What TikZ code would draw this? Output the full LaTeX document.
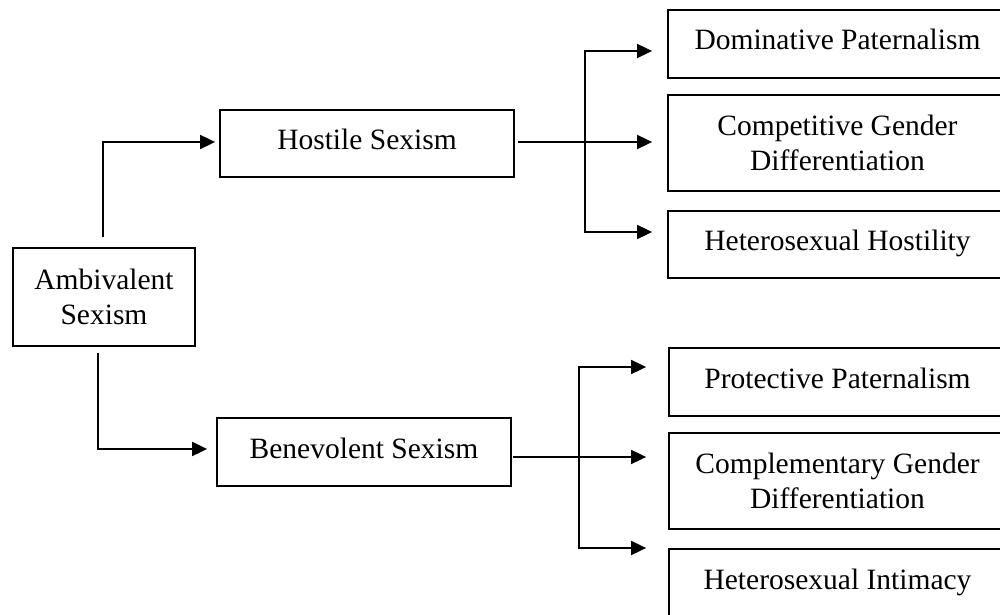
\documentclass[tikz,border=0pt]{standalone}
\usepackage{fontspec}
\setmainfont{Liberation Serif}
\usetikzlibrary{arrows.meta}
\begin{document}
\begin{tikzpicture}[x=1pt,y=1pt,
  box/.style={draw,line width=1.8pt,inner sep=0pt,align=center,
    font=\fontsize{29.5}{35}\selectfont},
  one/.style={text height=21pt,text depth=9pt},
  conn/.style={line width=1.8pt},
  arr/.style={line width=1.8pt,-{Triangle[length=15pt,width=14pt]}}]
\useasboundingbox (0,0) rectangle (1000,614);
\clip (0,0) rectangle (1000,614);
% left
\node[box,minimum width=182pt,minimum height=98pt] (amb) at (104,317) {Ambivalent\\Sexism};
\node[box,one,minimum width=294pt,minimum height=67pt] (hos) at (367,470.5) {Hostile Sexism};
\node[box,one,minimum width=294pt,minimum height=68pt] (ben) at (364,162) {Benevolent Sexism};
% right, hostile group
\node[box,one,minimum width=339pt,minimum height=68pt] (dom) at (837.5,570) {Dominative Paternalism};
\node[box,minimum width=339pt,minimum height=96pt] (comp) at (837.5,471) {Competitive Gender\\Differentiation};
\node[box,one,minimum width=339pt,minimum height=67pt] (hhost) at (837.5,369.5) {Heterosexual Hostility};
% right, benevolent group
\node[box,one,minimum width=337pt,minimum height=68pt] (prot) at (837.5,232) {Protective Paternalism};
\node[box,minimum width=337pt,minimum height=96pt] (compl) at (837.5,133) {Complementary Gender\\Differentiation};
\node[box,one,minimum width=337pt,minimum height=68pt] (hint) at (837.5,31) {Heterosexual Intimacy};
% connectors from Ambivalent
\draw[arr,shorten >=4pt] ([xshift=-1pt,yshift=10pt]amb.north) |- ([yshift=1.5pt]hos.west);
\draw[arr,shorten >=9pt] ([xshift=-6pt,yshift=-6pt]amb.south) |- ([yshift=3pt]ben.west);
% hostile branches
\coordinate (hb) at (585,472);
\draw[conn] ([xshift=3pt,yshift=1.5pt]hos.east) -- (hb);
\draw[arr,shorten >=15pt] (hb) |- ([yshift=-7pt]dom.west);
\draw[arr,shorten >=15pt] (hb) -- (hb -| comp.west);
\draw[arr,shorten >=15pt] (hb) |- ([yshift=12.5pt]hhost.west);
% benevolent branches
\coordinate (bb) at (579,157);
\draw[conn] ([xshift=1pt,yshift=-5pt]ben.east) -- (bb);
\draw[arr,shorten >=22pt] (bb) |- ([yshift=15pt]prot.west);
\draw[arr,shorten >=22pt] (bb) -- (bb -| compl.west);
\draw[arr,shorten >=22pt] (bb) |- ([yshift=35pt]hint.west);
\end{tikzpicture}
\end{document}
